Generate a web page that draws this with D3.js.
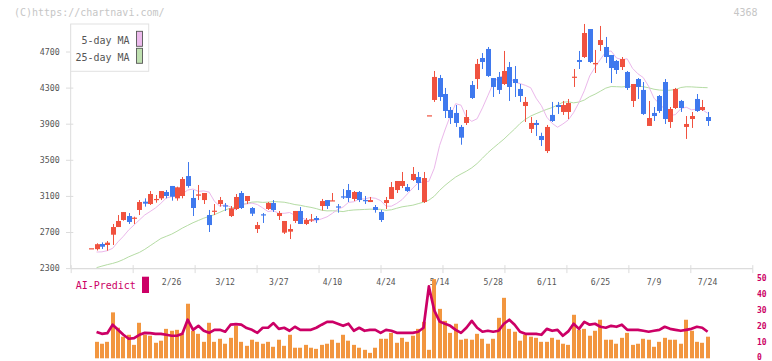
<!DOCTYPE html>
<html><head><meta charset="utf-8">
<script src="https://cdn.jsdelivr.net/npm/d3@7"></script>
<style>body{margin:0;background:#fff}svg{display:block}text{font-family:"DejaVu Sans Mono",monospace}</style>
</head><body><svg id="c" width="772" height="361"></svg>
<script>
const openP  = [2520,2510,2567,2556,2670,2755,2833,2877,2851,2944,3036,3010,3058,3073,3143,3210,3073,3099,3320,3077,3102,3054,2888,2929,3010,2995,2877,2955,3132,3043,2966,2733,2896,2955,3021,2877,2693,2704,2822,2933,2789,2833,2855,2988,3054,3043,2984,3095,3165,3066,3143,3054,3032,2977,2922,3021,3066,3165,3210,3198,3276,3309,3032,3993,4163,4406,4229,4052,4019,3864,3908,4329,4395,4628,4728,4406,4418,4340,4528,4395,4285,4096,3842,3908,3764,3597,3997,4107,4030,4030,4414,4606,4639,4949,4558,4772,4750,4661,4595,4528,4473,4152,4395,4274,3875,4019,4207,4362,3919,4074,4152,3864,3952,4174,4052,3974];
const highP  = [2520,2575,2585,2600,2789,2888,2921,2910,2870,3054,3073,3154,3110,3154,3165,3210,3202,3309,3475,3165,3221,3132,2944,3010,3088,3021,2988,3121,3154,3099,2977,2811,2910,3032,3054,2933,2822,2785,2933,2977,2855,2899,2877,3066,3054,3132,3010,3176,3232,3154,3154,3099,3088,2999,2944,3088,3254,3265,3365,3232,3420,3365,3365,3993,4484,4440,4296,4085,4107,3886,4052,4373,4617,4683,4750,4406,4473,4706,4584,4539,4340,4196,3974,3941,3800,3886,4141,4141,4152,4174,4506,4706,5005,4949,4717,4983,4861,4661,4606,4639,4484,4340,4406,4362,4152,4085,4218,4395,4085,4296,4163,3985,4030,4229,4163,4030];
const lowP   = [2520,2495,2512,2493,2556,2755,2825,2789,2789,2888,2981,2999,3025,3054,3073,3047,3047,3073,3191,2877,3054,3010,2700,2888,2981,2933,2866,2944,2955,3010,2877,2689,2800,2944,2922,2833,2678,2622,2800,2789,2777,2811,2800,2940,2955,3043,2914,3066,3032,3043,3032,3010,3032,2914,2811,2955,3066,3132,3187,3143,3265,3165,3021,3993,4141,4152,3963,3897,3864,3667,3886,4174,4285,4506,4418,4196,4229,4329,4152,4196,4141,3919,3797,3764,3653,3575,3919,4008,3997,3952,4307,4506,4628,4573,4462,4706,4573,4351,4451,4495,4274,4085,4174,3997,3875,3930,4019,3897,3853,4063,4030,3731,3853,4030,4041,3875];
const closeP = [2520,2565,2537,2582,2755,2822,2921,2811,2859,3032,3014,3121,3066,3154,3099,3091,3195,3287,3210,2966,3117,3132,2777,2936,3054,2984,2962,3088,2966,3099,2903,2777,2885,3021,2944,2910,2822,2733,2933,2789,2833,2840,2833,3043,2988,3051,2970,3088,3077,3143,3054,3043,3054,2944,2833,3054,3198,3265,3265,3154,3343,3243,3298,3993,4418,4196,4041,3963,3908,3745,3974,4185,4562,4584,4429,4307,4274,4484,4307,4351,4207,4141,3908,3886,3719,3864,3930,4085,4107,4129,4421,4584,4905,4584,4573,4827,4639,4517,4495,4617,4296,4340,4307,4008,3963,3985,4041,3952,4063,4285,4074,3897,3985,4041,4085,3930];
const ma5  = [null,2478,2480,2493,2519,2591,2652,2723,2778,2834,2889,2927,2967,3018,3077,3091,3106,3121,3165,3176,3150,3155,3142,3040,2986,3003,2977,2943,3005,3011,3020,3004,2967,2926,2937,2906,2907,2916,2886,2868,2837,2822,2826,2846,2868,2907,2951,2977,3028,3035,3066,3066,3081,3074,3048,2986,2986,3017,3059,3123,3187,3245,3254,3261,3406,3659,3830,3989,4122,4105,3971,3926,3955,4075,4210,4347,4413,4431,4416,4360,4345,4325,4298,4183,4099,3972,3904,3861,3897,3941,4023,4134,4265,4429,4525,4613,4695,4706,4628,4610,4619,4513,4453,4411,4314,4183,4121,4061,3990,4001,4065,4083,4054,4061,4056,4016];
const ma25 = [null,2305,2322,2338,2352,2370,2395,2425,2450,2474,2508,2548,2588,2628,2652,2676,2708,2743,2773,2803,2828,2853,2873,2893,2918,2945,2963,2979,3001,3017,3031,3034,3028,3031,3037,3034,3030,3018,3004,2996,2983,2973,2959,2941,2934,2935,2932,2926,2938,2944,2947,2950,2953,2952,2951,2940,2946,2963,2979,2988,2997,3014,3031,3053,3096,3161,3216,3264,3309,3343,3374,3411,3459,3518,3578,3630,3680,3729,3786,3841,3902,3948,3985,4011,4036,4059,4079,4107,4138,4143,4131,4140,4162,4200,4227,4260,4294,4312,4310,4307,4314,4314,4317,4310,4298,4282,4273,4269,4271,4278,4301,4309,4308,4304,4301,4299];
const volume = [null,10.3,9.1,10.3,28.7,19.1,13.5,14.7,8.4,22.2,14.7,14.1,9.7,11,18.4,17.2,17.8,15.3,34.1,17.2,15.3,10.3,22.2,10.3,12.2,9.1,12.8,20.3,10.3,7.8,11.6,10.3,9.1,10.3,7.2,11.6,7.8,14.7,6.6,6.6,8.4,6.6,5.9,8.4,9.1,11.6,9.7,14.7,11,8.4,6.6,5.3,3.4,6.6,12.2,12.2,15.9,9.7,12.8,10.3,14.1,18.4,22.8,5.3,49.5,30.9,23.4,15.9,21.6,11.6,12.2,11.6,15.3,12.2,9.1,12.2,25.3,37.8,18.4,16.6,11,14.7,13.5,12.8,10.3,10.3,12.8,11.6,9.1,8.4,27.2,17.8,18.4,14.1,17.2,24.1,11.6,11.6,9.1,12.8,15.9,8.4,9.1,12.2,11.6,7.2,10.3,12.8,11.6,11.6,9.1,24.1,17.2,10.3,9.7,13.5];
const aiPredict = [null,16.5,15.3,15.7,21,17.8,14.7,12.2,12.6,14.7,15.9,15.7,15.3,15.3,14.7,14.1,14.1,15.3,24.1,17.8,20.3,17.2,15.9,17.8,17.8,16.6,21,21.4,21,18.9,17.8,15.9,19.1,19.1,22,18.4,19.1,17.2,19.7,17.8,17.8,17.8,19.1,21,22.8,22.8,21.6,20.3,21.6,17.2,19.1,17.2,17.8,17.8,15.9,17.8,17.2,15.9,15.9,15.9,15.9,16.6,19.1,44.9,30,23,21.6,20.3,17.8,15.9,19.1,23.4,19.1,16.6,17.2,16.6,17.2,21.6,24.1,21,16.6,15.3,15.3,15.3,14.7,18.4,17.2,17.8,14.1,16.8,21.6,18.4,22.8,21,21.6,19.7,19.1,20.3,19.7,21,17.8,17.8,17.8,17.2,16.6,17.2,17.8,19.7,18.4,17.8,17.2,17.8,18.4,19.7,19.1,16.6];
const dateLabels = ["2/26","3/12","3/27","4/10","4/24","5/14","5/28","6/11","6/25","7/9","7/24"];
const dateLabelIdx = [15,25,35,45,55,65,75,85,95,105,115];
const priceTicks = [2300,2700,3100,3500,3900,4300,4700];
const subTicks = [0,10,20,30,40,50];
const legendNames = ["5-day MA","25-day MA"];

const days = d3.range(closeP.length);
const svg = d3.select("#c");
const x = d3.scaleLinear().domain([0, 115]).range([91.2, 707.6]);
const y = d3.scaleLinear().domain([2300, 4700]).range([268.1, 51.5]);
const ys = d3.scaleLinear().domain([0, 50]).range([358.3, 278.3]);
const gridX = d3.scaleLinear().domain([0, 11]).range([70.7, 752.3]);
const RED = "#f0523f", BLUE = "#3f79ee", GRID = "#dcdcdc", TXT = "#555", AI = "#cc0066";

// copyright + code
svg.append("text").attr("x", 14).attr("y", 15.6).attr("font-size", 10).attr("fill", "#c6c6c6").text("(C)https://chartnavi.com/");
svg.append("text").attr("x", 757.5).attr("y", 15.6).attr("font-size", 10).attr("text-anchor", "end").attr("fill", "#c6c6c6").text("4368");

// left axis
const gy = svg.append("g").attr("transform", "translate(70.7,0)")
  .call(d3.axisLeft(y).tickValues(priceTicks).tickSize(0).tickPadding(11).tickFormat(d3.format("d")));
gy.select(".domain").remove();
gy.selectAll("text").attr("font-size", 8.3).attr("fill", TXT).attr("font-family", "DejaVu Sans Mono");
gy.selectAll(".tick").append("line").attr("x1", -4.7).attr("x2", 2.6).attr("stroke", GRID);
svg.append("line").attr("x1", 70.7).attr("x2", 70.7).attr("y1", 24).attr("y2", 268.1).attr("stroke", GRID);

// bottom axis
const gx = svg.append("g").attr("transform", "translate(0,268.1)")
  .call(d3.axisBottom(gridX).ticks(11).tickSize(0).tickFormat(""));
gx.select(".domain").attr("stroke", GRID).attr("stroke-width", 1.2);
gx.selectAll(".tick line").remove();
gx.selectAll(".tick").append("line").attr("y1", -3).attr("y2", 5).attr("stroke", GRID);

// date labels
svg.append("g").selectAll("text").data(dateLabelIdx).join("text")
  .attr("x", d => x(d)).attr("y", 282.5).attr("dy", "0.35em").attr("text-anchor", "middle")
  .attr("font-size", 8.1).attr("fill", TXT).text((d, i) => dateLabels[i]);

// moving averages
const lineMa = arr => d3.line().defined(i => arr[i] != null).x(i => x(i)).y(i => y(arr[i])).curve(d3.curveLinear)(days);
svg.append("path").attr("d", lineMa(ma25)).attr("fill", "none").attr("stroke", "#b5dca4").attr("stroke-width", 1);
svg.append("path").attr("d", lineMa(ma5)).attr("fill", "none").attr("stroke", "#ebb8eb").attr("stroke-width", 1);

// candles
const cg = svg.append("g").selectAll("g").data(days).join("g");
cg.append("line").attr("x1", i => Math.round(x(i)) + 0.5).attr("x2", i => Math.round(x(i)) + 0.5)
  .attr("y1", i => y(highP[i])).attr("y2", i => y(lowP[i]))
  .attr("stroke", i => closeP[i] >= openP[i] ? RED : BLUE).attr("stroke-width", 1);
cg.append("rect").attr("x", i => Math.round(x(i)) - 2).attr("width", 5)
  .attr("y", i => y(Math.max(openP[i], closeP[i])))
  .attr("height", i => Math.max(1.2, Math.abs(y(openP[i]) - y(closeP[i]))))
  .attr("fill", i => closeP[i] >= openP[i] ? RED : BLUE);

// legend
const lg = svg.append("g");
lg.append("rect").attr("x", 70.7).attr("y", 24).attr("width", 78).attr("height", 47.3).attr("fill", "#fff").attr("stroke", "#e2e2e2");
const legendColors = ["#ecbaec", "#bfe0b0"];
legendNames.forEach((n, k) => {
  lg.append("text").attr("x", 129.6).attr("y", 40.8 + k * 16.5).attr("dy", "0.35em").attr("text-anchor", "end")
    .attr("font-size", 10).attr("fill", TXT).text(n);
  lg.append("rect").attr("x", 136.5).attr("y", 31.3 + k * 17).attr("width", 6).attr("height", 15)
    .attr("fill", legendColors[k]).attr("stroke", "#555").attr("stroke-width", 0.9);
});

// sub chart: volume bars
svg.append("g").selectAll("rect").data(days.filter(i => volume[i] != null)).join("rect")
  .attr("x", i => Math.round(x(i)) - 2).attr("width", 4)
  .attr("y", i => ys(volume[i])).attr("height", i => ys(0) - ys(volume[i]))
  .attr("fill", "#f2963f");

// AI predict line
svg.append("path").attr("d", d3.line().defined(i => aiPredict[i] != null).x(i => x(i)).y(i => ys(aiPredict[i]))(days))
  .attr("fill", "none").attr("stroke", AI).attr("stroke-width", 2.7).attr("stroke-linejoin", "round");

svg.append("text").attr("x", 75.7).attr("y", 285.8).attr("dy", "0.35em").attr("font-size", 10).attr("fill", AI).text("AI-Predict");
svg.append("rect").attr("x", 142).attr("y", 276.7).attr("width", 7).attr("height", 16.3).attr("fill", AI);

// right axis
const gr = svg.append("g").attr("transform", "translate(757,0)")
  .call(d3.axisRight(ys).tickValues(subTicks).tickSize(0).tickPadding(0).tickFormat(d3.format("d")));
gr.select(".domain").remove();
gr.selectAll("text").attr("font-size", 8).attr("fill", AI).attr("font-weight", "bold")
  .attr("font-family", "DejaVu Sans Mono").attr("dy", "0.3em")
  .attr("y", d => d === 0 ? -1.6 : 0);
</script></body></html>
